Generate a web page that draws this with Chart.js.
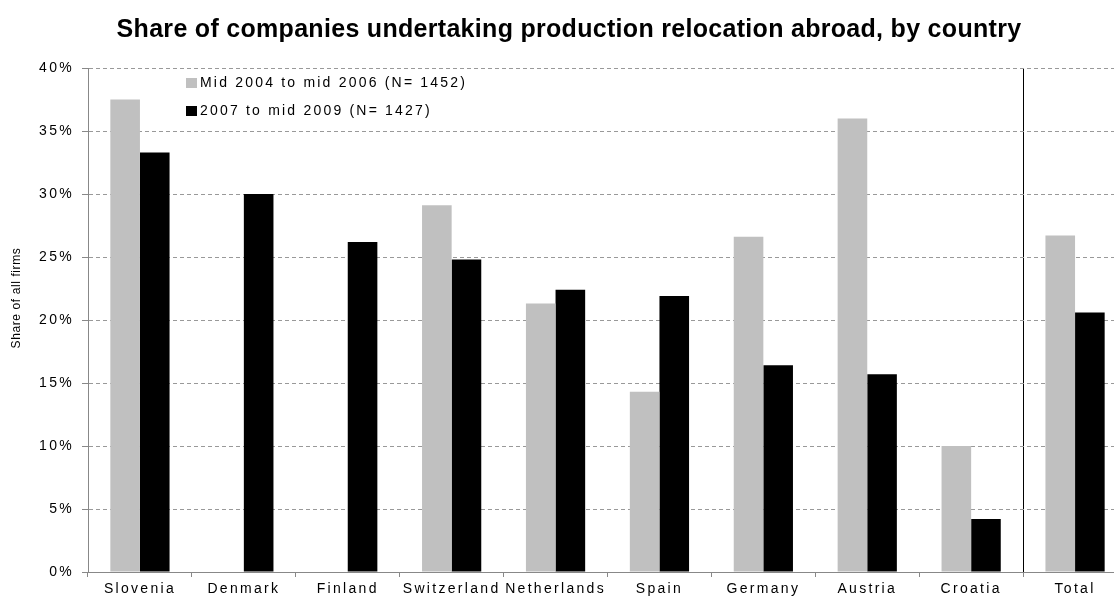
<!DOCTYPE html>
<html>
<head>
<meta charset="utf-8">
<script src="https://cdn.jsdelivr.net/npm/chart.js@4/dist/chart.umd.min.js"></script>
<style>
  html, body { margin: 0; padding: 0; background: #fff; overflow: hidden; }
  #wrap { width: 1140px; height: 596px; }
</style>
</head>
<body>
<div id="wrap"><canvas id="relocationChart" width="1140" height="596"></canvas></div>
<script>
const countries = ["Slovenia", "Denmark", "Finland", "Switzerland", "Netherlands", "Spain", "Germany", "Austria", "Croatia", "Total"];
const period1Label = "Mid 2004 to mid 2006 (N= 1452)";
const period2Label = "2007 to mid 2009 (N= 1427)";
const period1Share = [37.5, null, null, 29.1, 21.3, 14.3, 26.6, 36.0, 10.0, 26.7];
const period2Share = [33.3, 30.0, 26.2, 24.8, 22.4, 21.9, 16.4, 15.7, 4.2, 20.6];
const yMax = 40;
const yStep = 5;
const chartTitle = "Share of companies undertaking production relocation abroad, by country";
const yAxisTitle = "Share of all firms";

const FONT = '"Liberation Sans", Arial, Helvetica, sans-serif';

// axis text in the original looks stretched, so space it out while the chart draws;
// title, y title and legend are drawn here afterwards
const decorPlugin = {
  id: "decor",
  beforeDraw(chart) {
    chart.ctx.letterSpacing = "2.3px";
  },
  afterDraw(chart) {
    const ctx = chart.ctx;
    ctx.save();
    ctx.fillStyle = "#000";

    ctx.letterSpacing = "0.3px";
    ctx.font = "bold 25px " + FONT;
    ctx.textAlign = "center";
    ctx.textBaseline = "alphabetic";
    ctx.fillText(chartTitle, 569, 37);

    // legend, inside the plot top-left
    ctx.letterSpacing = "2.2px";
    ctx.font = "14px " + FONT;
    ctx.textAlign = "left";
    ctx.textBaseline = "middle";
    chart.data.datasets.forEach((ds, i) => {
      const y = 83 + i * 28;
      ctx.fillStyle = ds.backgroundColor;
      ctx.fillRect(186, y - 5, 11, 10);
      ctx.fillStyle = "#000";
      ctx.fillText(ds.label, 200, y);
    });

    // y axis title
    ctx.letterSpacing = "0.6px";
    ctx.font = "12px " + FONT;
    ctx.textAlign = "center";
    ctx.translate(17, 298);
    ctx.rotate(-Math.PI / 2);
    ctx.fillText(yAxisTitle, 0, 0);

    ctx.restore();
    ctx.letterSpacing = "0px";
  }
};

const ctx = document.getElementById("relocationChart").getContext("2d");

new Chart(ctx, {
  type: "bar",
  data: {
    labels: countries,
    datasets: [
      {
        label: period1Label,
        data: period1Share,
        backgroundColor: "#c0c0c0",
        borderWidth: 0,
        categoryPercentage: 0.57,
        barPercentage: 1
      },
      {
        label: period2Label,
        data: period2Share,
        backgroundColor: "#000000",
        borderWidth: 0,
        categoryPercentage: 0.57,
        barPercentage: 1
      }
    ]
  },
  options: {
    responsive: false,
    animation: false,
    layout: { padding: { top: 68, right: 13, bottom: 0, left: 0 } },
    plugins: {
      legend: { display: false },
      title: { display: false },
      tooltip: { enabled: false }
    },
    scales: {
      x: {
        grid: {
          offset: true,
          drawOnChartArea: true,
          // only the separator before "Total" is drawn across the plot
          color: c => c.index === countries.length - 1 ? "#000" : "rgba(0,0,0,0)",
          lineWidth: 1,
          tickColor: "#888",
          tickLength: 5
        },
        border: { color: "#888", width: 1 },
        ticks: {
          autoSkip: false,
          maxRotation: 0,
          minRotation: 0,
          padding: 4,
          color: "#000",
          font: { family: FONT, size: 14 }
        },
        afterFit(scale) { scale.height = 24; }
      },
      y: {
        min: 0,
        max: yMax,
        ticks: {
          stepSize: yStep,
          callback: v => v + "%",
          padding: 8,
          color: "#000",
          font: { family: FONT, size: 14 }
        },
        grid: { color: "#999", tickColor: "#888", tickLength: 6 },
        border: { color: "#888", width: 1, dash: [4, 3] },
        afterFit(scale) { scale.width = 88; }
      }
    }
  },
  plugins: [decorPlugin]
});
</script>
</body>
</html>
